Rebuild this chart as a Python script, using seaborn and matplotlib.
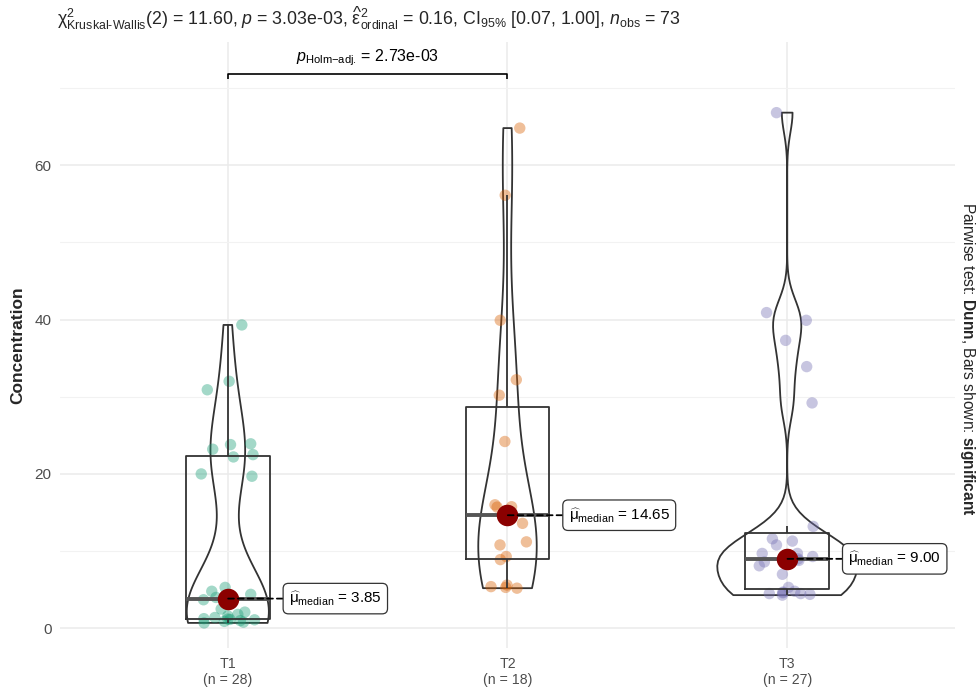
import numpy as np
import pandas as pd
import matplotlib
matplotlib.use("Agg")
import matplotlib.pyplot as plt
from matplotlib.ticker import MultipleLocator
import seaborn as sns

# ---- data -------------------------------------------------------------
groups = ["T1", "T2", "T3"]
t1_values = [0.7, 0.8, 0.9, 1.0, 1.1, 1.15, 1.2, 1.25, 1.4, 1.6, 1.8, 2.1,
             2.5, 3.7, 4.0, 4.4, 4.8, 5.3,
             19.7, 20.0, 22.2, 22.5, 23.2, 23.8, 23.9, 30.9, 32.0, 39.3]
t2_values = [5.2, 5.3, 5.4, 5.6, 8.9, 9.3, 10.8, 11.2, 13.6, 15.7, 15.75,
             16.0, 24.2, 30.2, 32.2, 39.9, 56.1, 64.8]
t3_values = [4.3, 4.4, 4.5, 4.5, 4.6, 4.7, 4.8, 5.3, 7.0, 8.1, 8.6, 8.8,
             8.9, 9.0, 9.3, 9.7, 9.7, 10.8, 11.3, 11.6, 13.2,
             29.2, 33.9, 37.3, 39.9, 40.9, 66.8]
group_colors = ["#1B9E77", "#D95F02", "#7570B3"]

y_ticks = [0, 20, 40, 60]
stats_line = (r"$\mathrm{\chi}^2_{\text{Kruskal-Wallis}}$(2) = 11.60, $\mathit{p}$ = 3.03e-03, "
              r"$\widehat{\mathrm{\varepsilon}}^2_{\mathrm{ordinal}}$ = 0.16, "
              r"CI$_{95\%}$ [0.07, 1.00], $\mathit{n}_{\mathrm{obs}}$ = 73")
pair_shown = ("T1", "T2")
pair_label = r"$\mathit{p}_{\text{Holm−adj.}}$ = 2.73e-03"
pair_level = 71.8
side_caption = r"Pairwise test: $\mathbf{Dunn}$, Bars shown: $\mathbf{significant}$"

# ---- styling ----------------------------------------------------------
sns.set_style("white")
plt.rcParams["font.family"] = ["Liberation Sans", "DejaVu Sans"]
plt.rcParams["mathtext.fontset"] = "custom"
plt.rcParams["mathtext.rm"] = "Liberation Sans"
plt.rcParams["mathtext.it"] = "Liberation Sans:italic"
plt.rcParams["mathtext.bf"] = "Liberation Sans:bold"
plt.rcParams["mathtext.sf"] = "Liberation Sans"

line_col = "#333333"
tick_col = "#4D4D4D"

values = {"T1": t1_values, "T2": t2_values, "T3": t3_values}
df = pd.DataFrame({
    "group": np.repeat(groups, [len(values[g]) for g in groups]),
    "conc": np.concatenate([values[g] for g in groups]),
})
palette = dict(zip(groups, group_colors))


def nrd0(v):
    """Silverman's rule of thumb (R's bw.nrd0)."""
    v = np.asarray(v, float)
    sd = v.std(ddof=1)
    q75, q25 = np.percentile(v, [75, 25])
    lo = min(sd, (q75 - q25) / 1.34)
    return 0.9 * lo * len(v) ** -0.2


def kde_peak(v, h):
    v = np.asarray(v, float)
    grid = np.linspace(v.min(), v.max(), 512)
    z = (grid[:, None] - v[None, :]) / h
    dens = np.exp(-0.5 * z ** 2).sum(1) / (len(v) * h * np.sqrt(2 * np.pi))
    return dens.max()


bws = {g: nrd0(values[g]) for g in groups}
peaks = {g: kde_peak(values[g], bws[g]) for g in groups}
peak_max = max(peaks.values())

fig = plt.figure(figsize=(9.79, 6.93), dpi=100)
ax = fig.add_axes([60 / 979, 45 / 693, 895 / 979, 605.6 / 693])

# jittered raw observations
np.random.seed(7)
sns.stripplot(data=df, x="group", y="conc", hue="group", order=groups,
              palette=palette, jitter=0.1, size=8.2, alpha=0.4, linewidth=0,
              legend=False, ax=ax, zorder=2)

# box plots (outliers hidden)
sns.boxplot(data=df, x="group", y="conc", order=groups, width=0.3,
            fill=False, color=line_col, saturation=1, showfliers=False,
            showcaps=False, linewidth=1.3,
            medianprops=dict(linewidth=2.8, color="#555555"), ax=ax)

# violins, equal-area scaling with per-group nrd0 bandwidth
for g in groups:
    sub = df[df["group"] == g]
    sns.violinplot(data=sub, x="group", y="conc", order=groups,
                   bw_method=bws[g] / np.std(values[g], ddof=1),
                   width=0.5 * peaks[g] / peak_max, density_norm="width",
                   cut=0, inner=None, fill=False, color=line_col,
                   saturation=1, linewidth=1.3, ax=ax)

# group medians
meds = df.groupby("group")["conc"].median()
sns.pointplot(data=df, x="group", y="conc", order=groups, estimator="median",
              errorbar=None, linestyle="none", marker="o", color="#8B0000",
              markersize=15.5, markeredgewidth=0, ax=ax, zorder=5)

for i, g in enumerate(groups):
    m = meds[g]
    ax.annotate(rf"$\widehat{{\mathrm{{\mu}}}}_{{\mathrm{{median}}}}$ = {m:.2f}",
                xy=(i, m), xytext=(44, 0), textcoords="offset points",
                ha="left", va="center", fontsize=11, color="black",
                bbox=dict(boxstyle="round,pad=0.38,rounding_size=0.35",
                          fc="white", ec=line_col, lw=0.9),
                arrowprops=dict(arrowstyle="-", linestyle=(0, (3.2, 2.2)),
                                color="black", lw=1.3, shrinkA=0, shrinkB=0),
                zorder=6)

# significance bracket
a, b = groups.index(pair_shown[0]), groups.index(pair_shown[1])
ax.plot([a, a, b, b], [pair_level - 0.65, pair_level, pair_level, pair_level - 0.65],
        color="black", lw=1.2, zorder=4, solid_capstyle="butt")
ax.text((a + b) / 2, pair_level + 0.8, pair_label, ha="center", va="bottom",
        fontsize=11.5, color="black")

# axes
ax.set_xlim(-0.6, 2.6)
ax.set_ylim(-2.55, 75.9)
ax.set_yticks(y_ticks)
ax.yaxis.set_minor_locator(MultipleLocator(10))
ax.set_xticks(range(len(groups)))
ax.set_xticklabels([f"{g}\n(n = {len(values[g])})" for g in groups])
ax.grid(True, which="major", color="#EBEBEB", lw=1.1)
ax.grid(True, which="minor", axis="y", color="#F2F2F2", lw=0.8)
ax.set_axisbelow(True)
for s in ax.spines.values():
    s.set_visible(False)
ax.tick_params(axis="y", which="major", length=3.5, width=0.8, color=line_col,
               labelsize=11, labelcolor=tick_col, pad=2.5)
ax.tick_params(axis="y", which="minor", length=0)
ax.tick_params(axis="x", length=3.5, width=0.8, color=line_col,
               labelsize=10.2, labelcolor=tick_col, pad=3)
ax.set_xlabel("")
ax.set_ylabel("Concentration", fontsize=12.5, fontweight="bold")
ax.yaxis.set_label_coords(-0.039, 0.5)

fig.text(57 / 979, 1 - 18 / 693, stats_line, ha="left", va="center",
         fontsize=12.8)
fig.text(968 / 979, 1 - 359 / 693, side_caption, rotation=270,
         ha="center", va="center", fontsize=11.2)

fig.savefig("out.png", dpi=100)
